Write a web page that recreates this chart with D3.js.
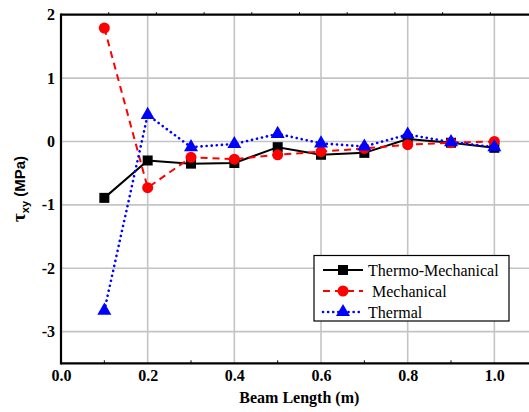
<!DOCTYPE html>
<html>
<head>
<meta charset="utf-8">
<script src="https://cdn.jsdelivr.net/npm/d3@7"></script>
<style>
  html, body { margin: 0; padding: 0; background: #fff; }
  svg { display: block; }
</style>
</head>
<body>
<svg id="chart" width="529" height="412"></svg>
<script>
// Shear stress along the beam for three loading cases
const beamLength = [0.1, 0.2, 0.3, 0.4, 0.5, 0.6, 0.7, 0.8, 0.9, 1.0];
const thermoMechanical = [-0.89, -0.30, -0.35, -0.34, -0.09, -0.21, -0.18, 0.04, -0.02, -0.10];
const mechanical = [1.79, -0.73, -0.25, -0.28, -0.21, -0.16, -0.11, -0.05, -0.02, 0.00];
const thermal = [-2.67, 0.42, -0.09, -0.04, 0.12, -0.03, -0.08, 0.11, -0.01, -0.09];
const xTicks = [0.0, 0.2, 0.4, 0.6, 0.8, 1.0];
const yTicks = [2, 1, 0, -1, -2, -3];
const seriesNames = ["Thermo-Mechanical", " Mechanical", "Thermal"];

const SERIF = '"Liberation Serif"';
const SANS = '"Liberation Sans"';

const svg = d3.select("#chart");
const plotLeft = 61, plotTop = 14.7, plotBottom = 363.3;

const x = d3.scaleLinear().domain([0, 1.1]).range([plotLeft, plotLeft + 476.7]);
const y = d3.scaleLinear().domain([-3.5, 2]).range([plotBottom, plotTop]);
// secondary top scale carrying the small tick marks of the upper frame
const xTop = d3.scaleLinear().domain([0, 1]).range([plotLeft, plotLeft + 477]);

// grid
const grid = svg.append("g").attr("stroke", "#c4c4c4").attr("stroke-width", 1.6);
grid.selectAll("line.v").data(xTicks.filter(d => d > 0)).join("line")
  .attr("x1", d => x(d)).attr("x2", d => x(d)).attr("y1", plotTop).attr("y2", plotBottom);
grid.selectAll("line.h").data(yTicks.filter(d => d < 2)).join("line")
  .attr("x1", plotLeft).attr("x2", 529).attr("y1", d => y(d)).attr("y2", d => y(d));

// bottom axis
const xAxis = d3.axisBottom(x).tickValues(xTicks).tickSize(0).tickPadding(6)
  .tickFormat(d => d.toFixed(1));
const gx = svg.append("g").attr("transform", `translate(0,${plotBottom})`).call(xAxis);
gx.select(".domain").remove();
gx.selectAll("text").style("font-family", SERIF).style("font-weight", "bold")
  .style("font-size", "16px").attr("fill", "#000").attr("dy", "0.72em");
// minor inward ticks on the bottom frame
svg.append("g").selectAll("line").data([0.1, 0.3, 0.5, 0.7, 0.9]).join("line")
  .attr("x1", d => x(d)).attr("x2", d => x(d))
  .attr("y1", plotBottom).attr("y2", plotBottom - 3)
  .attr("stroke", "#000").attr("stroke-width", 1);

// left axis (plain hyphen for negatives)
const yAxis = d3.axisLeft(y).tickValues(yTicks).tickSize(0).tickPadding(6)
  .tickFormat(d => String(d));
const gy = svg.append("g").attr("transform", `translate(${plotLeft},0)`).call(yAxis);
gy.select(".domain").remove();
gy.selectAll("text").style("font-family", SERIF).style("font-weight", "bold")
  .style("font-size", "16px").attr("fill", "#000");

// top frame ticks
svg.append("g").selectAll("line").data(d3.range(1, 11).map(i => i / 10)).join("line")
  .attr("x1", d => xTop(d)).attr("x2", d => xTop(d))
  .attr("y1", plotTop).attr("y2", plotTop - 2.5)
  .attr("stroke", "#000").attr("stroke-width", 1);

// frame lines
const frame = svg.append("g").attr("stroke", "#000").attr("stroke-width", 2.2).attr("fill", "none");
frame.append("line").attr("x1", plotLeft).attr("x2", 529).attr("y1", plotTop).attr("y2", plotTop);
frame.append("line").attr("x1", plotLeft).attr("x2", 529).attr("y1", plotBottom).attr("y2", plotBottom);
frame.append("line").attr("x1", plotLeft).attr("x2", plotLeft).attr("y1", plotTop - 1.1).attr("y2", plotBottom + 1.1);

// axis titles
svg.append("text").attr("x", x(0.55)).attr("y", 403).attr("text-anchor", "middle")
  .style("font-family", SERIF).style("font-weight", "bold").style("font-size", "16px")
  .text("Beam Length (m)");

const yt = svg.append("text")
  .attr("transform", `translate(25,${(plotTop + plotBottom) / 2}) rotate(-90)`)
  .attr("text-anchor", "middle")
  .style("font-family", SANS).style("font-weight", "bold").style("font-size", "15px");
yt.append("tspan").style("font-family", SERIF).style("font-size", "19px").text("τ");
yt.append("tspan").style("font-size", "11px").attr("dy", 4).text("xy");
yt.append("tspan").attr("dy", -4).text(" (MPa)");

// series
const series = [
  { name: seriesNames[0], values: thermoMechanical, color: "#000", dash: null, cap: "butt", width: 2, marker: d3.symbolSquare, size: 100 },
  { name: seriesNames[1], values: mechanical, color: "#ff0000", dash: "7,5", cap: "butt", width: 2, marker: d3.symbolCircle, size: 95 },
  { name: seriesNames[2], values: thermal, color: "#0000ff", dash: "0.1,5", cap: "round", width: 2.6, marker: d3.symbolTriangle, size: 85 }
];

const line = d3.line().x(d => x(d[0])).y(d => y(d[1]));
const plot = svg.append("g");

series.forEach(s => {
  const pts = beamLength.map((b, i) => [b, s.values[i]]);
  plot.append("path").datum(pts).attr("d", line)
    .attr("fill", "none").attr("stroke", s.color).attr("stroke-width", s.width)
    .attr("stroke-dasharray", s.dash).attr("stroke-linecap", s.cap);
});
series.forEach(s => {
  const pts = beamLength.map((b, i) => [b, s.values[i]]);
  const sym = d3.symbol().type(s.marker).size(s.size);
  plot.append("g").selectAll("path").data(pts).join("path")
    .attr("transform", d => `translate(${x(d[0])},${y(d[1])})`)
    .attr("d", sym).attr("fill", s.color);
});

// legend
const lg = svg.append("g");
lg.append("rect").attr("x", 314).attr("y", 255.5).attr("width", 195).attr("height", 65.5)
  .attr("fill", "#fff").attr("stroke", "#000").attr("stroke-width", 1.2);
series.forEach((s, i) => {
  const cy = 270 + i * 21;
  lg.append("line").attr("x1", 323).attr("x2", 363).attr("y1", cy).attr("y2", cy)
    .attr("stroke", s.color).attr("stroke-width", s.width)
    .attr("stroke-dasharray", s.dash).attr("stroke-linecap", s.cap);
  lg.append("path").attr("transform", `translate(343,${cy})`)
    .attr("d", d3.symbol().type(s.marker).size(s.size)()).attr("fill", s.color);
  lg.append("text").attr("x", 368).attr("y", cy + 5.5)
    .style("font-family", SERIF).style("font-size", "16px")
    .style("white-space", "pre").text(s.name);
});
</script>
</body>
</html>
